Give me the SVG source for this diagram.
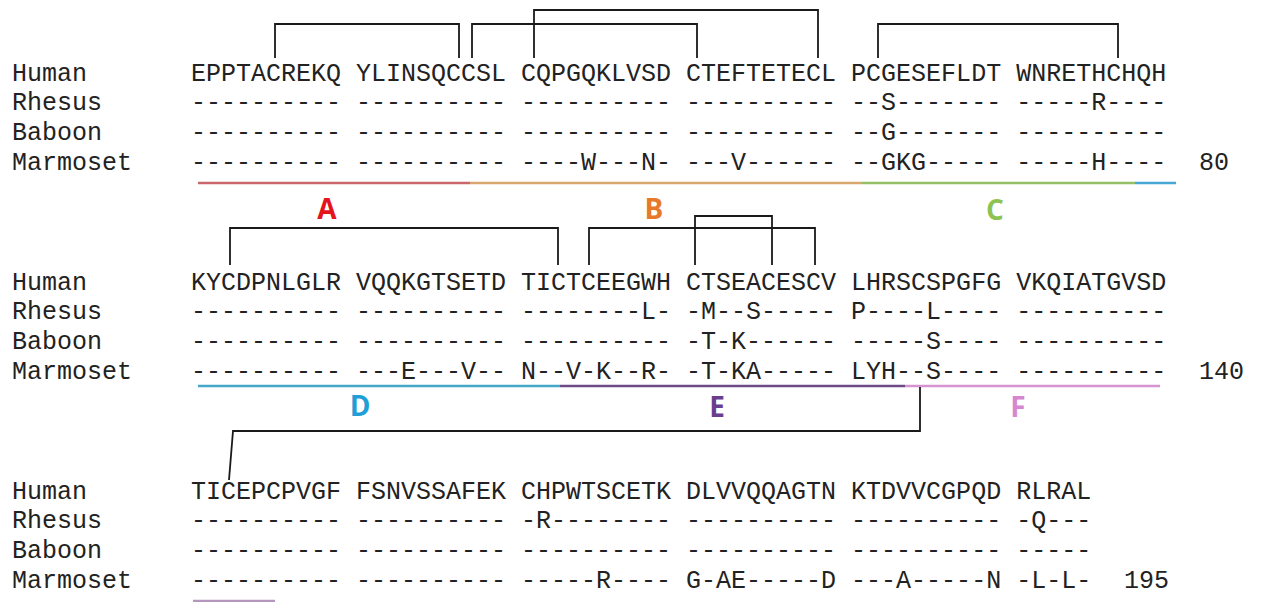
<svg xmlns="http://www.w3.org/2000/svg" width="1261" height="602" viewBox="0 0 1261 602">
<style>
.t{font-family:"Liberation Mono","Courier New",monospace;font-size:25px;fill:#222}
.br{fill:none;stroke:#1a1a1a;stroke-width:1.8}
.dom{stroke-width:2.5;fill:none}
.lab{font-family:"Open Sans","Liberation Sans",sans-serif;font-weight:700;font-size:28px;text-anchor:middle}
</style>
<rect width="1261" height="602" fill="#fff"/>
<g id="block1">
<text class="t" x="12" y="81">Human</text>
<text class="t" x="12" y="110">Rhesus</text>
<text class="t" x="12" y="140">Baboon</text>
<text class="t" x="12" y="170">Marmoset</text>
<text class="t" x="191" y="81">EPPTACREKQ YLINSQCCSL CQPGQKLVSD CTEFTETECL PCGESEFLDT WNRETHCHQH</text>
<text class="t" x="191" y="110">---------- ---------- ---------- ---------- --S------- -----R----</text>
<text class="t" x="191" y="140">---------- ---------- ---------- ---------- --G------- ----------</text>
<text class="t" x="191" y="170">---------- ---------- ----W---N- ---V------ --GKG----- -----H----</text>
<text class="t" x="1199" y="170">80</text>
</g>
<g id="block2">
<text class="t" x="12" y="290">Human</text>
<text class="t" x="12" y="319">Rhesus</text>
<text class="t" x="12" y="349">Baboon</text>
<text class="t" x="12" y="379">Marmoset</text>
<text class="t" x="191" y="290">KYCDPNLGLR VQQKGTSETD TICTCEEGWH CTSEACESCV LHRSCSPGFG VKQIATGVSD</text>
<text class="t" x="191" y="319">---------- ---------- --------L- -M--S----- P----L---- ----------</text>
<text class="t" x="191" y="349">---------- ---------- ---------- -T-K------ -----S---- ----------</text>
<text class="t" x="191" y="379">---------- ---E---V-- N--V-K--R- -T-KA----- LYH--S---- ----------</text>
<text class="t" x="1199" y="379">140</text>
</g>
<g id="block3">
<text class="t" x="12" y="499">Human</text>
<text class="t" x="12" y="528">Rhesus</text>
<text class="t" x="12" y="558">Baboon</text>
<text class="t" x="12" y="588">Marmoset</text>
<text class="t" x="191" y="499">TICEPCPVGF FSNVSSAFEK CHPWTSCETK DLVVQQAGTN KTDVVCGPQD RLRAL</text>
<text class="t" x="191" y="528">---------- ---------- -R-------- ---------- ---------- -Q---</text>
<text class="t" x="191" y="558">---------- ---------- ---------- ---------- ---------- -----</text>
<text class="t" x="191" y="588">---------- ---------- -----R---- G-AE-----D ---A-----N -L-L-</text>
<text class="t" x="1124" y="588">195</text>
</g>
<g id="domains">
<line class="dom" x1="198" y1="183" x2="470" y2="183" stroke="#c9676c"/>
<line class="dom" x1="470" y1="183" x2="862" y2="183" stroke="#d9a670"/>
<line class="dom" x1="862" y1="183" x2="1135" y2="183" stroke="#95bf66"/>
<line class="dom" x1="1135" y1="183" x2="1176" y2="183" stroke="#45a8d4"/>
<line class="dom" x1="198" y1="386" x2="560" y2="386" stroke="#45a8c8"/>
<line class="dom" x1="560" y1="386" x2="905" y2="386" stroke="#6e4a86"/>
<line class="dom" x1="905" y1="386" x2="1160" y2="386" stroke="#d593cf"/>
<line class="dom" x1="193" y1="601" x2="275" y2="601" stroke="#b597bd"/>
<text class="lab" x="327" y="219" fill="#e3141c">A</text>
<text class="lab" x="654" y="219" fill="#e8792a">B</text>
<text class="lab" x="995" y="220" fill="#8dc451">C</text>
<text class="lab" x="360" y="416" fill="#1f9fd6">D</text>
<text class="lab" x="717" y="417" fill="#6a3d8f">E</text>
<text class="lab" x="1018" y="417" fill="#d786d0">F</text>
</g>
<g id="connectors">
<polyline class="br" points="275,58 275,24 459,24 459,58"/>
<polyline class="br" points="472,58 472,24 697,24 697,58"/>
<polyline class="br" points="534,58 534,10 818,10 818,58"/>
<polyline class="br" points="878,58 878,24 1118,24 1118,58"/>
<polyline class="br" points="230,265 230,228 558,228 558,265"/>
<polyline class="br" points="589,265 589,228 815,228 815,265"/>
<polyline class="br" points="695,265 695,216 772,216 772,265"/>
<polyline class="br" points="920,387 920,431 233,431 229,480"/>
</g>
</svg>
